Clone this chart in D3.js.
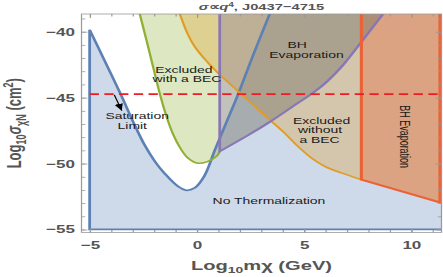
<!DOCTYPE html>
<html>
<head>
<meta charset="utf-8">
<script src="https://cdn.jsdelivr.net/npm/d3@7"></script>
<style>
  html, body { margin: 0; padding: 0; background: #fff; }
  text { font-family: "Liberation Sans", Arial, sans-serif; }
</style>
</head>
<body>
<svg id="chart" width="443" height="277"></svg>
<script>
// values (log10 m in GeV, log10 sigma in cm^2)
const xTicks = [-5, 0, 5, 10];
const yTicks = [-55, -50, -45, -40];
const xMinor = d3.range(-5, 12);
const yMinor = d3.range(-55, -38);

// blue "No Thermalization" boundary (the V shape)
const noThermV = [[-5, -39.85], [-4.3, -42.2], [-3.55, -44.75], [-2.95, -46.9], [-2.45, -48.55],
  [-1.95, -49.85], [-1.5, -50.75], [-0.9, -51.7], [-0.48, -52.03], [-0.1, -51.85], [0.35, -50.95],
  [0.84, -49.0], [1.35, -47.0], [1.93, -44.74], [2.65, -41.7], [3.4, -38.66], [3.56, -38.0]];
const noThermFloor = -55;

// green "Excluded with a BEC"
const becCurve = [[-2.77, -38.0], [-2.66, -38.66], [-2.2, -41.6], [-1.72, -44.74], [-1.4, -46.5],
  [-1.1, -47.8], [-0.8, -48.75], [-0.4, -49.6], [0.05, -49.98], [0.5, -49.85], [0.92, -49.45], [1.07, -49.1]];

// orange "Excluded without a BEC"
const noBecCurve = [[-0.93, -38.0], [-0.79, -38.66], [-0.5, -39.9], [-0.15, -41.0], [0.3, -41.95],
  [0.98, -43.12], [1.54, -43.95], [2.05, -44.71], [2.32, -45.1], [3.4, -46.68], [4.1, -47.69],
  [4.72, -48.7], [5.35, -49.58], [5.97, -50.21], [6.75, -50.71], [7.68, -51.22]];

// purple "BH Evaporation" (vertical edge then curve)
const bhEdge = 1.07;
const bhCurve = [[1.07, -49.08], [2.4, -47.85], [3.4, -46.85], [4.5, -45.65], [5.5, -44.55],
  [6.1, -43.75], [6.82, -42.55], [7.75, -40.63], [8.69, -38.66], [9.0, -38.0]];

// red "BH Evaporation" (heavy mass side)
const bhMassCut = 7.68;
const bhEvapLine = [[7.68, -51.22], [11.35, -52.95]];

// dashed saturation line and arrow
const satY = -44.74;
const satArrow = [[-3.85, -44.8], [-3.5, -45.99]];

// labels: [text, x, y] in data coords (baseline)
const notes = [
  ["Excluded", -0.6, -43.13], ["with a BEC", -0.46, -43.85],
  ["BH", 4.68, -41.24], ["Evaporation", 5.12, -41.96],
  ["Excluded", 5.83, -47.0], ["without", 5.75, -47.7], ["a BEC", 5.73, -48.46],
  ["Saturation", -2.78, -46.62], ["Limit", -3.01, -47.4],
  ["No Thermalization", 3.37, -53.06]
];
const sideNote = ["BH Evaporation", 9.48, -47.96];

// the picture is stretched sideways, so draw in a squeezed space and stretch back
const SX = 1.55;
const L = 81.5 / SX, R = 441.5 / SX, T = 14, B = 232.5;
const XTOP = -38, XRIGHT = 12;

const x = d3.scaleLinear().domain([-5.38, 11.42]).range([L, R]);
const y = d3.scaleLinear().domain([-55.23, -38.66]).range([B, T]);

const svg = d3.select("#chart");
const root = svg.append("g").attr("transform", `scale(${SX},1)`);

root.append("defs").append("clipPath").attr("id", "clip")
  .append("rect").attr("x", L).attr("y", T).attr("width", R - L).attr("height", B - T);
const mk = svg.select("defs").append("marker")
  .attr("id", "head").attr("markerUnits", "userSpaceOnUse")
  .attr("viewBox", "0 0 10 8").attr("refX", 10).attr("refY", 4)
  .attr("markerWidth", 7).attr("markerHeight", 6).attr("orient", "auto");
mk.append("path").attr("d", "M0,0L10,4L0,8Z").attr("fill", "#000");

const curve = d3.line().x(d => x(d[0])).y(d => y(d[1])).curve(d3.curveCatmullRom.alpha(0.5));
const straight = d3.line().x(d => x(d[0])).y(d => y(d[1]));
const pt = p => x(p[0]) + "," + y(p[1]);

function shape(pre, pts, post, close) {
  let s = curve(pts);
  if (pre.length) s = "M" + pre.map(pt).join("L") + "L" + s.slice(1);
  if (post.length) s += "L" + post.map(pt).join("L");
  return close ? s + "Z" : s;
}

const plot = root.append("g").attr("clip-path", "url(#clip)");

// fills
plot.append("path")
  .attr("d", shape([[XRIGHT, noThermFloor], [-5, noThermFloor]], noThermV, [[XRIGHT, XTOP]], true))
  .attr("fill", "#5e81b5").attr("fill-opacity", 0.3);
plot.append("path")
  .attr("d", shape([], becCurve, [[bhEdge, XTOP]], true))
  .attr("fill", "#8fb032").attr("fill-opacity", 0.3);
plot.append("path")
  .attr("d", shape([], noBecCurve, [bhEvapLine[1], [XRIGHT, bhEvapLine[1][1]], [XRIGHT, XTOP]], true))
  .attr("fill", "#e19c24").attr("fill-opacity", 0.3);
plot.append("path")
  .attr("d", straight([[bhMassCut, XTOP], ...bhEvapLine, [XRIGHT, bhEvapLine[1][1]], [XRIGHT, XTOP]]) + "Z")
  .attr("fill", "#eb6235").attr("fill-opacity", 0.35);
plot.append("path")
  .attr("d", shape([[bhEdge, XTOP]], bhCurve, [], true))
  .attr("fill", "#787669").attr("fill-opacity", 0.45);

// boundaries
plot.append("path")
  .attr("d", shape([[XRIGHT, noThermFloor], [-5, noThermFloor]], noThermV, [], false))
  .attr("fill", "none").attr("stroke", "#5e81b5").attr("stroke-width", 1.8);
plot.append("path").attr("d", curve(becCurve))
  .attr("fill", "none").attr("stroke", "#8fb032").attr("stroke-width", 1.5);
plot.append("path").attr("d", curve(noBecCurve))
  .attr("fill", "none").attr("stroke", "#e19c24").attr("stroke-width", 1.5);
plot.append("path").attr("d", shape([[bhEdge, XTOP]], bhCurve, [], false))
  .attr("fill", "none").attr("stroke", "#8778b3").attr("stroke-width", 1.8);
plot.append("path")
  .attr("d", straight([[bhMassCut, XTOP], ...bhEvapLine, [bhEvapLine[1][0], XTOP]]))
  .attr("fill", "none").attr("stroke", "#eb6235").attr("stroke-width", 2);

// saturation line
plot.append("path").attr("d", straight([[-5, satY], [XRIGHT, satY]]))
  .attr("stroke", "#ee1c25").attr("stroke-width", 1.8).attr("stroke-dasharray", "6,3.5");
plot.append("path").attr("d", straight(satArrow))
  .attr("stroke", "#000").attr("stroke-width", 0.8).attr("marker-end", "url(#head)");

// region labels
root.append("g").selectAll("text").data(notes).join("text")
  .attr("x", d => x(d[1])).attr("y", d => y(d[2]))
  .attr("text-anchor", "middle").attr("font-size", 9).attr("fill", "#1a1a1a")
  .text(d => d[0]);
root.append("text")
  .attr("transform", `translate(${x(sideNote[1])},${y(sideNote[2])}) rotate(90)`)
  .attr("text-anchor", "middle").attr("font-size", 9).attr("fill", "#1a1a1a")
  .text(sideNote[0]);

// frame and ticks
root.append("rect").attr("x", L).attr("y", T).attr("width", R - L).attr("height", B - T)
  .attr("fill", "none").attr("stroke", "#9a9a9a").attr("stroke-width", 0.8);

const fmt = d3.format("d");
function frameAxis(axisFn, scale, values, size, pad, labels, tr) {
  const a = axisFn(scale).tickValues(values).tickSize(-size).tickPadding(pad)
    .tickFormat(labels ? fmt : () => "");
  const g = root.append("g").attr("transform", tr).call(a);
  g.select(".domain").remove();
  g.selectAll("line").attr("stroke", "#9a9a9a").attr("stroke-width", 0.8);
  g.attr("font-family", null).attr("font-size", null);
  g.selectAll("text").attr("font-size", 11).attr("font-weight", "bold").attr("fill", "#555");
  return g;
}
frameAxis(d3.axisBottom, x, xTicks, 4, 8.7, true, `translate(0,${B})`);
frameAxis(d3.axisBottom, x, xMinor, 2.5, 0, false, `translate(0,${B})`);
frameAxis(d3.axisTop, x, xTicks, 4, 0, false, `translate(0,${T})`);
frameAxis(d3.axisTop, x, xMinor, 2.5, 0, false, `translate(0,${T})`);
frameAxis(d3.axisLeft, y, yTicks, 4 / SX * 1.5, 4.2, true, `translate(${L},0)`);
frameAxis(d3.axisLeft, y, yMinor, 2.5 / SX * 1.5, 0, false, `translate(${L},0)`);
frameAxis(d3.axisRight, y, yTicks, 4 / SX * 1.5, 0, false, `translate(${R},0)`);
frameAxis(d3.axisRight, y, yMinor, 2.5 / SX * 1.5, 0, false, `translate(${R},0)`);

// title and axis titles
const title = root.append("text").attr("x", (L + R) / 2).attr("y", 10.5)
  .attr("text-anchor", "middle").attr("font-size", 9.5).attr("font-weight", "bold").attr("fill", "#555");
title.append("tspan").attr("font-style", "italic").text("σ");
title.append("tspan").text("∝");
title.append("tspan").attr("font-style", "italic").text("q");
title.append("tspan").attr("font-size", 6.5).attr("dy", -3.5).text("4");
title.append("tspan").attr("dy", 3.5).text(", J0437\u22124715");

const xl = root.append("text").attr("x", (L + R) / 2).attr("y", 270)
  .attr("text-anchor", "middle").attr("font-size", 13).attr("font-weight", "bold").attr("fill", "#555");
xl.append("tspan").text("Log");
xl.append("tspan").attr("font-size", 9).attr("dy", 3).text("10");
xl.append("tspan").attr("dy", -3).text("m\u03C7 (GeV)");

const yl = root.append("text")
  .attr("transform", `translate(${21 / SX},${(T + B) / 2}) rotate(-90)`)
  .attr("text-anchor", "middle").attr("font-size", 13).attr("font-weight", "bold").attr("fill", "#555");
yl.append("tspan").text("Log");
yl.append("tspan").attr("font-size", 9).attr("dy", 3).text("10");
yl.append("tspan").attr("dy", -3).attr("font-style", "italic").text("σ");
yl.append("tspan").attr("font-size", 9).attr("dy", 3).text("\u03C7N");
yl.append("tspan").attr("dy", -3).text(" (cm");
yl.append("tspan").attr("font-size", 9).attr("dy", -5).text("2");
yl.append("tspan").attr("dy", 5).text(")");
</script>
</body>
</html>
